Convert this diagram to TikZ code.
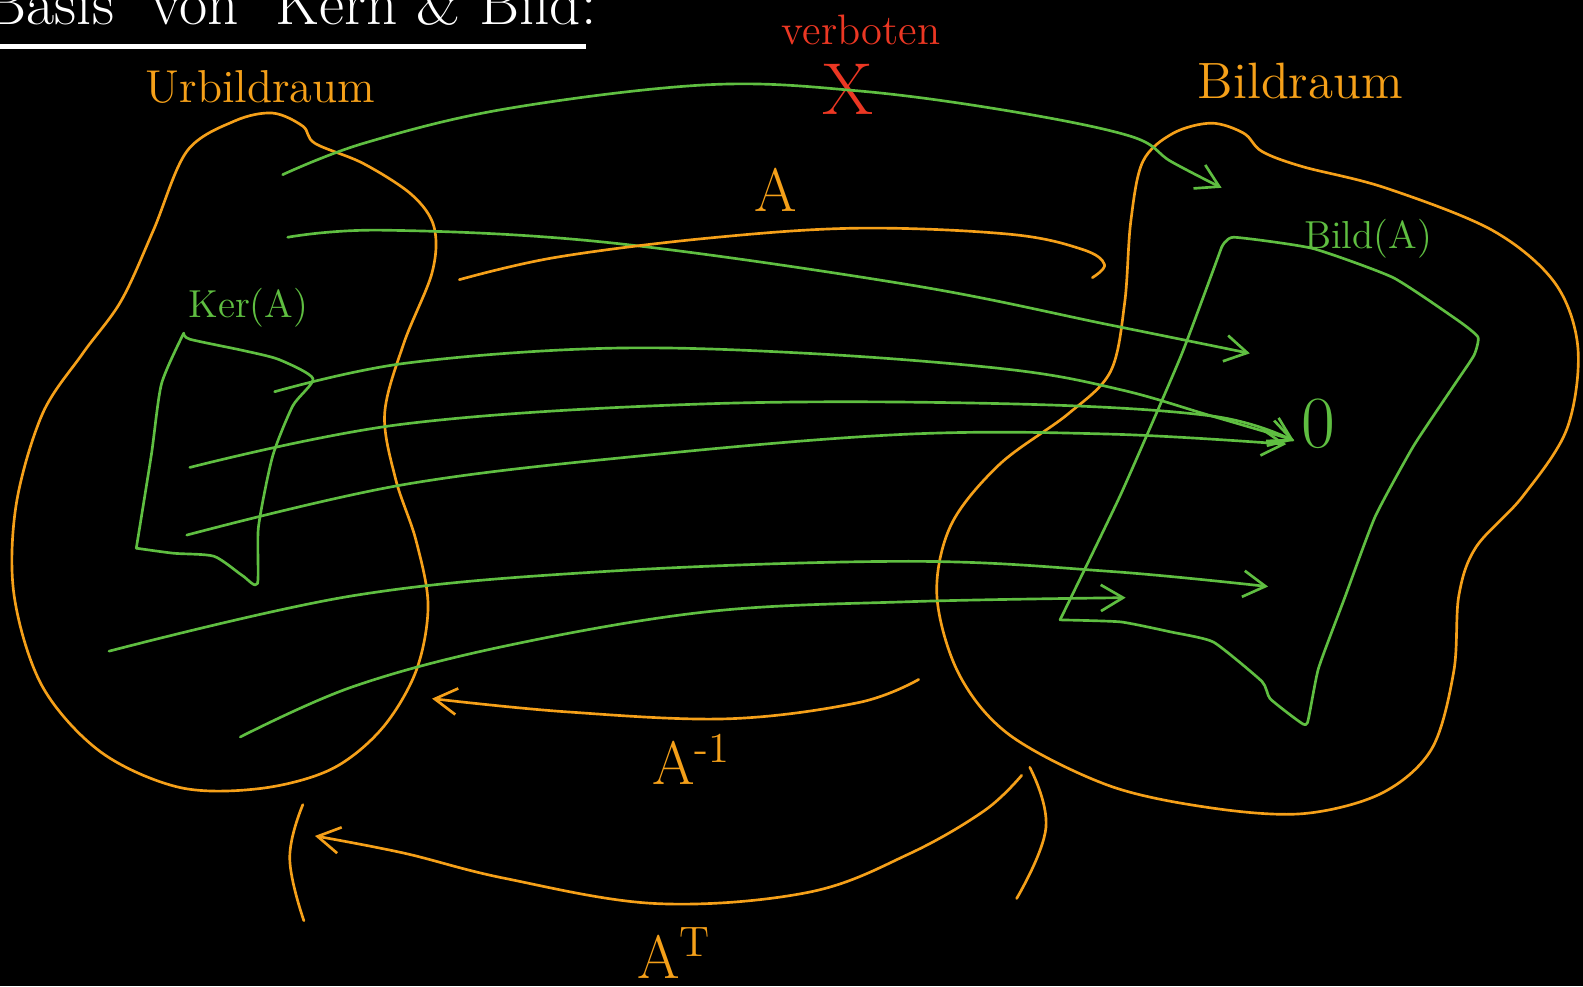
\documentclass[tikz,border=0pt]{standalone}
\usepackage{amsmath, amssymb}
\usepackage{tikz}
\usetikzlibrary{arrows.meta}

\definecolor{penorange}{RGB}{245,160,25}
\definecolor{pengreen}{RGB}{95,190,65}
\definecolor{penred}{RGB}{235,55,35}

\tikzset{
    stroke/.style={line width=0.75pt, line cap=round, line join=round},
    orangepen/.style={stroke, penorange},
    greenpen/.style={stroke, pengreen},
    mapsto/.style={-{Straight Barb[length=2.2mm, width=2.6mm]}},
    label/.style={font=\Large, inner sep=1pt}
}

\begin{document}
\begin{tikzpicture}[x=0.1mm, y=-0.1mm]
    \fill[black] (0,0) rectangle (1568,977);
    \useasboundingbox (0,0) rectangle (1568,977);

    % title
    \node[white, font=\LARGE, anchor=base west, inner sep=0pt] (title) at (-14,24) {Basis \ von \ Kern \& Bild:};
    \draw[white, line width=1.4pt] (0,46) -- (580,46);

    % the two spaces
    \draw[orangepen] plot[smooth cycle, tension=0.55] coordinates {
        (270,112) (300,125) (312,142) (360,162) (408,193) (430,225) (428,270)
        (400,340) (381,410) (392,475) (412,535) (424,600) (412,665) (378,722)
        (328,762) (258,781) (178,780) (100,745) (42,680) (14,590) (16,500)
        (42,410) (82,350) (120,298) (152,228) (185,150) (232,120)};
    \draw[orangepen] plot[smooth cycle, tension=0.55] coordinates {
        (1200,122) (1232,132) (1250,150) (1290,165) (1372,186) (1478,228)
        (1540,280) (1563,345) (1552,425) (1508,492) (1462,542) (1445,590)
        (1440,665) (1418,742) (1368,786) (1290,806) (1198,800) (1098,778)
        (1000,728) (950,668) (928,590) (942,520) (990,460) (1058,410)
        (1100,368) (1114,300) (1120,220) (1132,160) (1162,132)};

    % Bild(A) and Ker(A)
    \draw[greenpen] plot[smooth, tension=0.3] coordinates {
        (1210,245) (1222,235) (1300,246) (1380,275) (1445,318) (1464,334)
        (1460,352) (1440,382) (1400,442) (1362,512) (1332,592) (1306,662)
        (1295,716) (1286,714) (1258,692) (1250,675) (1202,636) (1160,626)
        (1110,616) (1050,614)};
    \draw[greenpen] plot[smooth, tension=0.3] coordinates {
        (1050,614) (1110,490) (1170,352) (1210,245)};
    \draw[greenpen] plot[smooth, tension=0.4] coordinates {
        (182,330) (188,336) (240,347) (276,356) (310,375) (290,402)
        (270,452) (256,522) (255,578) (240,570) (212,551) (172,548) (135,543)};
    \draw[greenpen] plot[smooth, tension=0.4] coordinates {
        (135,543) (150,450) (160,380) (182,330)};

    % labels
    \node[label, penorange, font=\fontsize{13}{15}\selectfont] (urbild) at (258,86) {Urbildraum};
    \node[label, penorange] (bildraum) at (1288,80) {Bildraum};
    \node[label, pengreen, font=\fontsize{11}{13}\selectfont] (bildA) at (1355,236) {Bild(A)};
    \node[label, pengreen, font=\fontsize{11}{13}\selectfont] (kerA) at (246,305) {Ker(A)};
    \node[label, pengreen, font=\huge] (null) at (1306,420) {0};
    \node[label, penred, font=\fontsize{12}{14}\selectfont] (verboten) at (853,30) {verboten};
    \node[label, penred, font=\huge] (kreuz) at (840,89) {X};
    \node[label, penorange, font=\LARGE] (nameA) at (768,188) {A};
    \node[label, penorange, font=\LARGE] (nameAinv) at (685,752) {A\textsuperscript{-1}};
    \node[label, penorange, font=\LARGE] (nameAT) at (668,944) {A\textsuperscript{T}};

    % green mappings
    \draw[greenpen, mapsto] plot[smooth, tension=0.6] coordinates {
        (280,173) (360,142) (500,108) (700,84) (850,90) (1000,110) (1120,135) (1160,160) (1210,186)};
    \draw[greenpen, mapsto] plot[smooth, tension=0.6] coordinates {
        (285,235) (380,228) (600,240) (900,282) (1100,322) (1238,350)};
    \draw[greenpen, mapsto] plot[smooth, tension=0.6] coordinates {
        (272,388) (400,360) (600,345) (800,350) (1000,366) (1110,386) (1200,412) (1282,436)};
    \draw[greenpen, mapsto] plot[smooth, tension=0.6] coordinates {
        (188,463) (400,420) (700,400) (1000,400) (1200,412) (1282,437)};
    \draw[greenpen, mapsto] plot[smooth, tension=0.6] coordinates {
        (185,530) (400,480) (650,450) (900,430) (1100,430) (1274,440)};
    \draw[greenpen, mapsto] plot[smooth, tension=0.6] coordinates {
        (108,645) (350,590) (600,566) (900,556) (1100,566) (1256,581)};
    \draw[greenpen, mapsto] plot[smooth, tension=0.6] coordinates {
        (238,730) (350,680) (500,640) (700,606) (900,596) (1115,592)};

    % orange mappings
    \draw[orangepen] plot[smooth, tension=0.6] coordinates {
        (455,277) (550,255) (700,236) (850,226) (1000,232) (1072,247) (1094,262) (1082,275)};
    \draw[orangepen, mapsto] plot[smooth, tension=0.6] coordinates {
        (910,673) (850,696) (720,712) (560,705) (428,692)};
    \draw[orangepen, mapsto] plot[smooth, tension=0.6] coordinates {
        (1012,768) (975,803) (900,846) (800,884) (650,895) (500,870) (400,845) (312,828)};
    \draw[orangepen] plot[smooth, tension=0.7] coordinates {
        (300,797) (287,850) (301,912)};
    \draw[orangepen] plot[smooth, tension=0.7] coordinates {
        (1020,760) (1036,820) (1007,890)};
\end{tikzpicture}
\end{document}
